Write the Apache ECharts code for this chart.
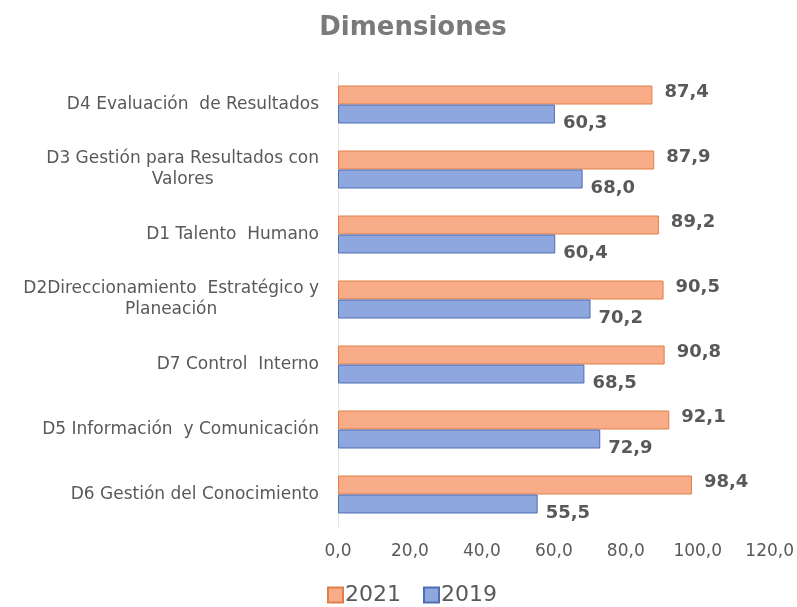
<!DOCTYPE html>
<html>
<head>
<meta charset="utf-8">
<script src="https://cdn.jsdelivr.net/npm/echarts@6/dist/echarts.min.js"></script>
<style>html,body{margin:0;padding:0;background:#fff}#c{width:797px;height:607px}</style>
</head>
<body>
<div id="c"></div>
<script>
const categories = [
  'D4 Evaluación  de Resultados',
  'D3 Gestión para Resultados con\nValores',
  'D1 Talento  Humano',
  'D2Direccionamiento  Estratégico y\nPlaneación',
  'D7 Control  Interno',
  'D5 Información  y Comunicación',
  'D6 Gestión del Conocimiento'
];
const values2021 = [87.4, 87.9, 89.2, 90.5, 90.8, 92.1, 98.4];
const values2019 = [60.3, 68.0, 60.4, 70.2, 68.5, 72.9, 55.5];
const seriesNames = ['2021', '2019'];
const xTicks = { min: 0, max: 120, interval: 20 };

const fmt = v => Number(v).toFixed(1).replace('.', ',');
const chart = echarts.init(document.getElementById('c'));
const labelStyle = { show: true, position: 'right', fontFamily: 'DejaVu Sans', fontWeight: 'bold', fontSize: 18, color: '#595959', formatter: p => fmt(p.value) };
chart.setOption({
  backgroundColor: '#ffffff',
  title: { text: 'Dimensiones', left: 408, textAlign: 'center', top: 10, textStyle: { fontFamily: 'DejaVu Sans', fontWeight: 'bold', fontSize: 26, color: '#7a7a7a' } },
  legend: {
    left: 327, top: 584, padding: 0, itemWidth: 15, itemHeight: 15, itemGap: 22,
    icon: 'rect',
    textStyle: { fontFamily: 'DejaVu Sans', fontSize: 22, color: '#595959', padding: [0,0,0,-3] },
    data: seriesNames
  },
  grid: { left: 338, right: 27, top: 72, bottom: 80 },
  xAxis: {
    type: 'value', min: xTicks.min, max: xTicks.max, interval: xTicks.interval,
    splitLine: { show: false }, axisLine: { show: false }, axisTick: { show: false },
    axisLabel: { margin: 16, fontFamily: 'DejaVu Sans', fontSize: 17, color: '#595959', formatter: v => fmt(v) }
  },
  yAxis: {
    type: 'category', inverse: true, data: categories,
    axisLine: { show: true, lineStyle: { color: '#e6e6e6' } }, axisTick: { show: false },
    axisLabel: {
      margin: 19, color: '#595959',
      formatter: v => v.split('\n').map(s => '{c|' + s + '}').join('\n'),
      rich: { c: { align: 'center', fontFamily: 'DejaVu Sans', fontSize: 17, color: '#595959', lineHeight: 21 } }
    }
  },
  series: [
    { name: seriesNames[0], type: 'bar', data: values2021, barWidth: 19, barGap: '0%',
      itemStyle: { color: '#F8AD88', borderColor: '#E07F49', borderWidth: 1 },
      label: Object.assign({}, labelStyle, { offset: [7, -3] }) },
    { name: seriesNames[1], type: 'bar', data: values2019, barWidth: 19, barGap: '0%',
      itemStyle: { color: '#8EA7DE', borderColor: '#4E6DB5', borderWidth: 1 },
      label: Object.assign({}, labelStyle, { offset: [3, 9] }) }
  ]
});
</script>
</body>
</html>
